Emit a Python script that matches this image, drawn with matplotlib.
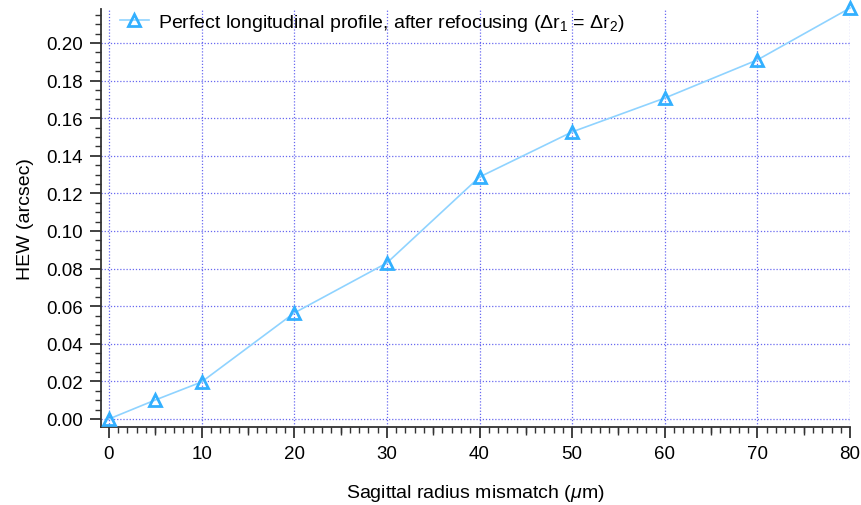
import numpy as np
import matplotlib
matplotlib.use("Agg")
import matplotlib.pyplot as plt
from matplotlib.ticker import MultipleLocator

# data
mismatch_um = [0, 5, 10, 20, 30, 40, 50, 60, 70, 80]
hew_arcsec = [0.0, 0.0101, 0.0197, 0.0564, 0.0830, 0.1287, 0.1527, 0.1707, 0.1910, 0.2186]

legend_label = r"Perfect longitudinal profile, after refocusing ($\Delta$r$_1$ = $\Delta$r$_2$)"
x_label = r"Sagittal radius mismatch ($\mu$m)"
y_label = "HEW (arcsec)"

plt.rcParams['font.family'] = ['Liberation Sans', 'DejaVu Sans']
plt.rcParams['mathtext.fontset'] = 'custom'
plt.rcParams['mathtext.rm'] = 'Liberation Sans'
plt.rcParams['mathtext.it'] = 'Liberation Sans:italic'

fig = plt.figure(figsize=(8.61, 5.06), dpi=100)
ax = fig.add_axes([0.1173, 0.154, 0.87, 0.826])

ax.plot(mismatch_um, hew_arcsec, color='#8fd3ff', lw=1.2,
        marker='^', markersize=9, markerfacecolor='none',
        markeredgecolor='#33b0ff', markeredgewidth=2.0,
        label=legend_label, clip_on=False, zorder=3)

ax.set_xlim(-0.86, 80)
ax.set_ylim(-0.0043, 0.218)

ax.xaxis.set_major_locator(MultipleLocator(10))
ax.xaxis.set_minor_locator(MultipleLocator(1))
ax.yaxis.set_major_locator(MultipleLocator(0.02))
ax.yaxis.set_minor_locator(MultipleLocator(0.005))
ax.yaxis.set_major_formatter(plt.FuncFormatter(lambda v, p: f"{v:.2f}"))

for s in ['top', 'right']:
    ax.spines[s].set_visible(False)
for s in ['left', 'bottom']:
    ax.spines[s].set_color('#333333')
    ax.spines[s].set_linewidth(1.3)

ax.tick_params(which='major', direction='out', length=8, width=1.3,
               color='#333333', labelsize=13.5, pad=5)
ax.tick_params(which='minor', direction='out', length=4, width=1.0, color='#333333')

# medium ticks at the half-decades
sec = ax.secondary_xaxis('bottom')
sec.set_xticks([5, 15, 25, 35, 45, 55, 65, 75])
sec.tick_params(direction='out', length=6, width=1.0, color='#333333', labelbottom=False)
sec.spines['bottom'].set_visible(False)

ax.grid(True, which='major', color='#4d4dee', linestyle=(0, (1, 1.5)),
        linewidth=0.9, alpha=0.85)
ax.set_axisbelow(True)

ax.set_xlabel(x_label, fontsize=14, labelpad=14)
ax.set_ylabel(y_label, fontsize=14, labelpad=9)

ax.legend(loc='upper left', frameon=False, fontsize=14,
          bbox_to_anchor=(0.007, 1.025), handlelength=1.5, borderaxespad=0.3,
          handletextpad=0.45)

fig.savefig("out.png", dpi=100)
